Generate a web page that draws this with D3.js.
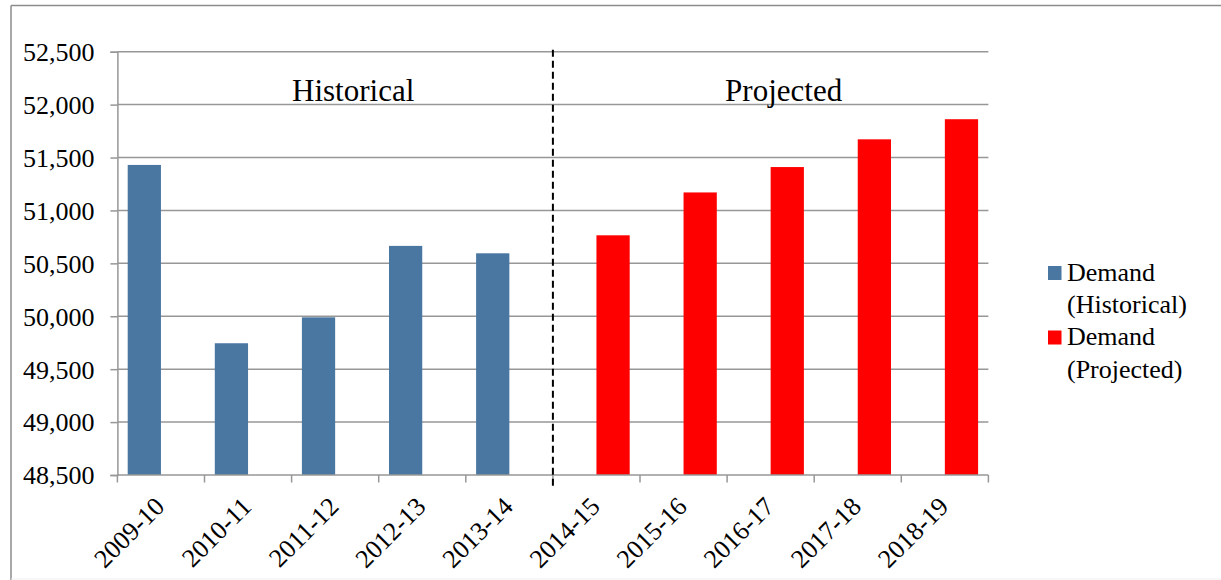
<!DOCTYPE html>
<html>
<head>
<meta charset="utf-8">
<script src="https://cdn.jsdelivr.net/npm/d3@7"></script>
<style>
  html, body { margin: 0; padding: 0; background: #fff; }
  svg { display: block; }
  svg text { font-family: "Liberation Serif", "Times New Roman", serif !important; }
</style>
</head>
<body>
<svg id="chart" width="1221" height="580"></svg>
<script>
const categories = ["2009-10","2010-11","2011-12","2012-13","2013-14","2014-15","2015-16","2016-17","2017-18","2018-19"];
const seriesNames = ["Demand (Historical)", "Demand (Projected)"];
const historical = [51430, 49745, 49990, 50665, 50595, null, null, null, null, null];
const projected  = [null, null, null, null, null, 50765, 51170, 51410, 51672, 51862];
const yTicks = [48500, 49000, 49500, 50000, 50500, 51000, 51500, 52000, 52500];
const sectionLabels = ["Historical", "Projected"];
const colors = ["#4a77a2", "#ff0000"];

(function () {
const svg = d3.select("#chart");
const pLeft = 117.4, pRight = 988.4, pTop = 51.7, pBottom = 475;

const x0 = d3.scaleBand().domain(categories).range([pLeft, pRight]).padding(0);
const x1 = d3.scaleBand().domain([0, 1]).range([0, x0.bandwidth()]).paddingInner(0).paddingOuter(0.31);
const y = d3.scaleLinear().domain([48500, 52500]).range([pBottom, pTop]);
const fmt = d3.format(",");

// outer frame
svg.append("line").attr("x1", 11).attr("x2", 1221).attr("y1", 5.5).attr("y2", 5.5).attr("stroke", "#8c8c8c").attr("stroke-width", 1.5);
svg.append("line").attr("x1", 11).attr("x2", 11).attr("y1", 5.5).attr("y2", 580).attr("stroke", "#8c8c8c").attr("stroke-width", 1.5);
svg.append("line").attr("x1", 11).attr("x2", 1221).attr("y1", 579).attr("y2", 579).attr("stroke", "#eeeeee").attr("stroke-width", 1);

// gridlines
svg.append("g").selectAll("line").data(yTicks.slice(1)).join("line")
  .attr("x1", pLeft).attr("x2", pRight)
  .attr("y1", d => y(d)).attr("y2", d => y(d))
  .attr("stroke", "#979797").attr("stroke-width", 1.5);

// bars
const rows = categories.map((c, i) => ({c, vals: [historical[i], projected[i]]}));
const g = svg.append("g");
rows.forEach(r => {
  r.vals.forEach((v, s) => {
    if (v == null) return;
    g.append("rect")
      .attr("x", x0(r.c) + x1(s))
      .attr("width", x1.bandwidth())
      .attr("y", y(v))
      .attr("height", y(48500) - y(v))
      .attr("fill", colors[s]);
  });
});

// y axis
const yAxis = d3.axisLeft(y).tickValues(yTicks).tickFormat(fmt).tickSize(7).tickPadding(16);
const ya = svg.append("g").attr("transform", `translate(${pLeft},0)`).call(yAxis)
  .attr("font-family", "Liberation Serif").attr("font-size", 26);
ya.select(".domain").attr("stroke", "#979797").attr("stroke-width", 1.5);
ya.selectAll(".tick line").attr("stroke", "#979797").attr("stroke-width", 1.5);
ya.selectAll(".tick text").attr("font-size", 26).attr("fill", "#000").attr("dy", "0.34em");

// x axis: ticks at band boundaries
const xa = svg.append("g");
xa.append("line").attr("x1", pLeft).attr("x2", pRight).attr("y1", pBottom).attr("y2", pBottom)
  .attr("stroke", "#979797").attr("stroke-width", 1.5);
const edges = categories.map(c => x0(c)).concat([pRight]);
xa.selectAll("line.tk").data(edges).join("line").attr("class", "tk")
  .attr("x1", d => d).attr("x2", d => d).attr("y1", pBottom).attr("y2", pBottom + 7.5)
  .attr("stroke", "#979797").attr("stroke-width", 1.5);
xa.selectAll("text").data(categories).join("text")
  .attr("transform", d => `translate(${x0(d) + x0.bandwidth() / 2 + 5},${pBottom + 33}) rotate(-45)`)
  .attr("text-anchor", "end")
  .attr("font-size", 26)
  .attr("fill", "#000")
  .text(d => d);

// dashed separator between historical and projected
const sepX = x0(categories[5]);
svg.append("line").attr("x1", sepX).attr("x2", sepX).attr("y1", pTop - 2).attr("y2", pBottom + 12)
  .attr("stroke", "#000").attr("stroke-width", 2).attr("stroke-dasharray", "7,4");

// section labels
svg.append("text").attr("x", x0(categories[2]) + x0.bandwidth() / 2 + 18).attr("y", 100.5)
  .attr("text-anchor", "middle").attr("font-size", 31).attr("fill", "#000").text(sectionLabels[0]);
svg.append("text").attr("x", x0(categories[7]) + x0.bandwidth() / 2 + 13).attr("y", 100.5)
  .attr("text-anchor", "middle").attr("font-size", 31).attr("fill", "#000").text(sectionLabels[1]);

// legend
const lg = svg.append("g").attr("transform", "translate(1048,266)");
seriesNames.forEach((name, i) => {
  const item = lg.append("g").attr("transform", `translate(0,${i * 64.5})`);
  item.append("rect").attr("x", 0).attr("y", 0).attr("width", 13.5).attr("height", 14).attr("fill", colors[i]);
  const parts = [name.split(" ")[0], name.split(" ").slice(1).join(" ")];
  const t = item.append("text").attr("font-size", 26).attr("fill", "#000");
  t.append("tspan").attr("x", 19).attr("y", 14.5).text(parts[0]);
  t.append("tspan").attr("x", 19).attr("y", 47).text(parts[1]);
});
})();
</script>
</body>
</html>
